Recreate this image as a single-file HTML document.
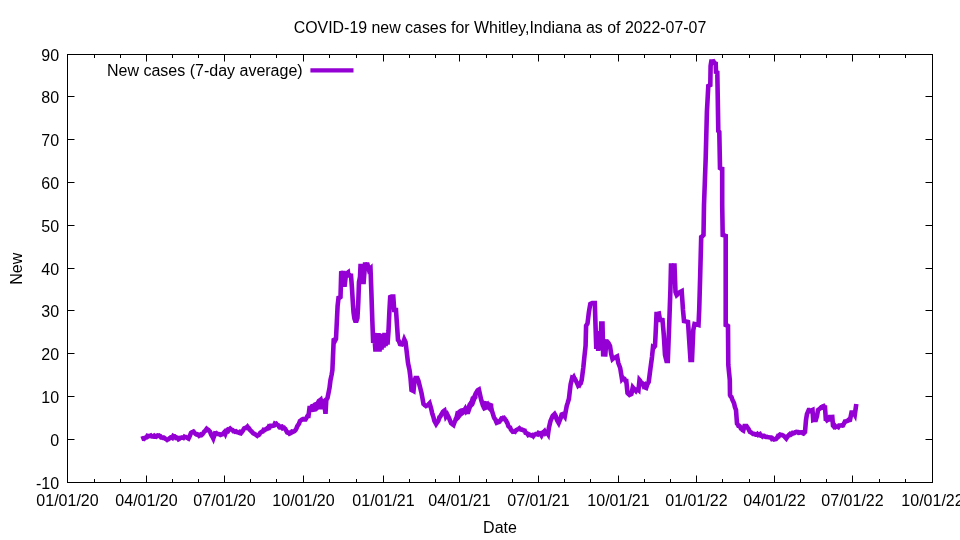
<!DOCTYPE html>
<html><head><meta charset="utf-8"><title>COVID-19 new cases for Whitley,Indiana</title>
<style>
html,body{margin:0;padding:0;background:#fff;}
svg{display:block;will-change:transform;}
text{font-family:"Liberation Sans",Arial,sans-serif;font-size:16px;fill:#000;}
</style></head>
<body>
<svg width="960" height="540" viewBox="0 0 960 540">
<rect x="0" y="0" width="960" height="540" fill="#fff"/>
<text x="500" y="32.7" text-anchor="middle" style="font-size:15.92px">COVID-19 new cases for Whitley,Indiana as of 2022-07-07</text>
<path d="M67.5,439.5h7.0M932.5,439.5h-7.0M67.5,396.5h7.0M932.5,396.5h-7.0M67.5,353.5h7.0M932.5,353.5h-7.0M67.5,310.5h7.0M932.5,310.5h-7.0M67.5,268.5h7.0M932.5,268.5h-7.0M67.5,225.5h7.0M932.5,225.5h-7.0M67.5,182.5h7.0M932.5,182.5h-7.0M67.5,139.5h7.0M932.5,139.5h-7.0M67.5,96.5h7.0M932.5,96.5h-7.0M146.5,482.5v-7.0M146.5,54.5v7.0M224.5,482.5v-7.0M224.5,54.5v7.0M303.5,482.5v-7.0M303.5,54.5v7.0M383.5,482.5v-7.0M383.5,54.5v7.0M459.5,482.5v-7.0M459.5,54.5v7.0M538.5,482.5v-7.0M538.5,54.5v7.0M618.5,482.5v-7.0M618.5,54.5v7.0M696.5,482.5v-7.0M696.5,54.5v7.0M774.5,482.5v-7.0M774.5,54.5v7.0M852.5,482.5v-7.0M852.5,54.5v7.0M94.5,482.5v-3.5M94.5,54.5v3.5M120.5,482.5v-3.5M120.5,54.5v3.5M172.5,482.5v-3.5M172.5,54.5v3.5M198.5,482.5v-3.5M198.5,54.5v3.5M250.5,482.5v-3.5M250.5,54.5v3.5M276.5,482.5v-3.5M276.5,54.5v3.5M329.5,482.5v-3.5M329.5,54.5v3.5M356.5,482.5v-3.5M356.5,54.5v3.5M409.5,482.5v-3.5M409.5,54.5v3.5M435.5,482.5v-3.5M435.5,54.5v3.5M486.5,482.5v-3.5M486.5,54.5v3.5M512.5,482.5v-3.5M512.5,54.5v3.5M564.5,482.5v-3.5M564.5,54.5v3.5M590.5,482.5v-3.5M590.5,54.5v3.5M644.5,482.5v-3.5M644.5,54.5v3.5M670.5,482.5v-3.5M670.5,54.5v3.5M722.5,482.5v-3.5M722.5,54.5v3.5M749.5,482.5v-3.5M749.5,54.5v3.5M800.5,482.5v-3.5M800.5,54.5v3.5M826.5,482.5v-3.5M826.5,54.5v3.5M879.5,482.5v-3.5M879.5,54.5v3.5M905.5,482.5v-3.5M905.5,54.5v3.5" stroke="#000" stroke-width="1" fill="none"/>
<rect x="67.5" y="54.5" width="865.0" height="428.0" stroke="#000" stroke-width="1" fill="none"/>
<text x="59.1" y="488.6" text-anchor="end">-10</text><text x="59.1" y="445.6" text-anchor="end">0</text><text x="59.1" y="402.6" text-anchor="end">10</text><text x="59.1" y="359.6" text-anchor="end">20</text><text x="59.1" y="316.6" text-anchor="end">30</text><text x="59.1" y="274.6" text-anchor="end">40</text><text x="59.1" y="231.6" text-anchor="end">50</text><text x="59.1" y="188.6" text-anchor="end">60</text><text x="59.1" y="145.6" text-anchor="end">70</text><text x="59.1" y="102.6" text-anchor="end">80</text><text x="59.1" y="60.6" text-anchor="end">90</text>
<text x="67.5" y="505.5" text-anchor="middle">01/01/20</text><text x="146.5" y="505.5" text-anchor="middle">04/01/20</text><text x="224.5" y="505.5" text-anchor="middle">07/01/20</text><text x="303.5" y="505.5" text-anchor="middle">10/01/20</text><text x="383.5" y="505.5" text-anchor="middle">01/01/21</text><text x="459.5" y="505.5" text-anchor="middle">04/01/21</text><text x="538.5" y="505.5" text-anchor="middle">07/01/21</text><text x="618.5" y="505.5" text-anchor="middle">10/01/21</text><text x="696.5" y="505.5" text-anchor="middle">01/01/22</text><text x="774.5" y="505.5" text-anchor="middle">04/01/22</text><text x="852.5" y="505.5" text-anchor="middle">07/01/22</text><text x="932.5" y="505.5" text-anchor="middle">10/01/22</text>
<text x="500" y="532.7" text-anchor="middle">Date</text>
<text transform="translate(22,268.8) rotate(-90)" text-anchor="middle">New</text>
<text x="107" y="75.7">New cases (7-day average)</text>
<path d="M310.4,70.4H353.5" stroke="#9400d3" stroke-width="4.2" fill="none"/>
<polygon points="309.8,405.5 310.7,404 315,403.8 317,399.6 319.5,397.8 322,395.5 323.1,400 324.5,397.5 325.5,399 325.5,405 324.5,409 322.5,409.6 318.8,409.4 316.5,411.5 312,412.3 310,412" fill="#9400d3"/><polygon points="482,400.5 486,401 490,402.5 493.3,403.8 493.5,410 490,412 487.3,409.5 483.3,411.3 481.5,408" fill="#9400d3"/><polygon points="455,415.3 457.6,410.2 460.1,408.6 462.4,407.9 466.1,407.9 469.4,401.2 472,396.4 474.2,394.6 475.7,389.6 477.5,388 477.6,398 476.4,399.6 474.2,405.5 472,407.7 469.8,414.2 464.6,414.2 461.6,416.4 459.4,419.4 456.5,422" fill="#9400d3"/>
<polyline points="141.30,439.00 142.16,438.65 143.02,438.31 144.00,438.80 144.75,438.16 145.40,437.60 146.47,437.36 147.33,435.99 148.19,436.38 149.10,435.90 149.92,435.82 150.78,435.46 151.64,436.38 152.25,436.50 152.50,436.52 153.36,436.60 154.22,435.87 155.08,436.61 156.00,436.80 156.81,435.74 157.67,435.42 158.53,435.78 159.10,435.55 159.39,435.74 160.25,436.17 161.12,437.41 161.98,437.42 162.25,437.60 162.84,437.82 163.70,437.54 164.56,438.03 165.40,438.80 166.29,439.21 167.15,439.92 168.00,439.40 168.87,438.90 169.73,437.99 170.59,437.54 171.00,437.25 171.45,437.16 172.32,437.79 173.18,436.05 174.04,436.64 174.75,436.50 175.76,437.86 176.62,437.55 177.49,437.96 178.50,439.30 179.21,438.94 180.07,437.88 180.93,437.75 181.79,437.63 182.25,437.40 182.65,437.37 183.52,437.83 184.38,436.70 185.24,437.16 186.00,437.10 186.96,437.77 187.82,438.12 188.50,438.50 189.55,436.43 190.41,434.30 191.00,433.00 191.27,432.85 192.13,432.13 192.99,431.88 193.50,431.60 193.85,432.00 194.72,433.06 195.80,434.20 196.44,434.50 197.30,434.14 198.16,434.54 199.20,435.80 199.89,435.47 200.75,434.53 201.61,434.95 202.50,434.20 203.33,432.99 204.19,431.66 205.05,431.05 205.92,429.77 206.70,428.75 207.64,429.50 208.50,429.97 209.36,431.13 210.00,431.70 211.09,434.43 211.95,436.00 212.81,437.40 213.30,438.40 213.67,437.29 214.53,434.70 215.00,433.30 215.39,433.38 216.26,433.11 217.12,433.89 217.98,433.98 218.84,434.12 219.20,434.20 219.70,434.20 220.56,434.87 221.42,434.61 222.50,434.20 223.15,433.49 224.01,432.54 224.50,432.00 224.87,432.76 225.40,433.85 225.73,432.99 226.50,431.00 227.46,429.95 228.32,430.73 229.20,429.20 230.04,428.58 230.90,429.47 231.70,429.60 232.62,430.03 233.49,431.23 234.35,431.28 235.00,431.70 236.07,431.31 236.93,432.15 237.79,432.38 238.30,432.50 238.66,432.61 239.52,432.04 240.38,433.17 240.80,433.30 241.24,432.65 242.10,431.70 242.96,430.63 243.82,428.85 244.20,428.30 244.69,428.06 245.55,427.79 246.41,428.00 247.50,426.70 248.13,427.54 248.99,428.30 250.00,430.00 250.72,430.68 251.58,431.51 252.20,432.10 253.30,433.27 254.16,433.72 255.03,434.33 255.89,434.75 256.75,435.47 257.20,435.80 257.61,435.39 258.47,435.13 259.33,434.47 260.19,432.81 260.50,432.50 261.06,432.17 261.92,431.61 262.78,431.46 263.64,429.79 264.70,430.00 265.36,429.47 266.23,429.17 267.09,428.38 267.95,428.39 268.80,426.70 269.67,427.18 270.53,425.88 271.39,425.91 272.26,425.96 273.00,425.80 273.98,425.55 274.84,423.63 275.70,424.12 276.30,423.75 276.56,424.04 277.43,424.91 278.29,425.25 279.15,426.89 279.70,427.50 280.01,427.50 280.87,426.72 281.73,426.60 282.59,428.05 283.46,427.50 283.80,427.50 284.32,428.26 285.18,428.80 286.04,430.31 286.90,432.06 287.20,432.50 287.76,432.64 288.63,432.65 289.49,433.73 290.50,433.30 291.21,432.88 292.07,431.59 292.93,431.76 293.80,431.43 294.70,430.80 295.52,430.12 296.38,428.49 297.24,426.33 298.00,425.00 298.96,423.87 300.00,421.00 300.69,420.48 301.55,419.84 302.00,419.50 302.41,419.50 303.27,418.98 304.13,419.30 305.00,419.50 305.50,419.50 305.86,418.88 306.72,417.37 307.50,416.00 308.50,416.00 309.50,408.00 310.16,408.00 311.03,407.61 312.00,408.00 312.75,407.00 313.50,406.00 314.47,405.03 315.00,404.50 315.33,404.39 316.20,404.10 316.50,404.00 317.06,403.81 318.00,403.50 318.78,402.72 319.50,402.00 320.50,401.33 321.00,401.00 321.36,401.00 322.23,401.00 322.50,401.00 323.09,401.59 323.50,402.00 323.95,403.35 324.50,405.00 324.81,407.74 325.50,413.80 326.30,400.00 327.50,398.00 328.50,393.00 329.12,389.91 329.50,388.00 329.98,384.16 330.50,380.00 330.84,378.40 331.70,374.40 332.40,370.00 333.43,346.31 333.70,340.00 334.29,339.74 335.15,340.60 336.00,339.00 336.87,321.00 337.60,306.00 338.50,298.00 339.46,297.80 340.50,297.00 341.20,273.00 342.04,272.79 342.90,273.00 343.50,273.00 343.77,276.66 344.50,286.80 345.49,278.37 346.00,274.00 346.35,273.74 347.21,273.09 348.00,272.50 348.40,275.30 348.93,275.34 349.80,275.21 350.66,275.47 351.00,275.50 351.52,282.13 351.90,287.00 352.38,294.81 352.70,300.00 353.24,308.13 353.50,312.00 354.10,316.36 354.40,318.50 355.20,320.80 355.83,320.80 356.50,320.80 357.40,318.00 358.00,308.00 358.30,302.00 359.00,282.00 359.27,280.63 360.00,277.00 360.50,266.00 361.00,266.00 361.86,266.00 362.50,266.00 363.50,284.00 364.44,271.75 365.00,264.50 365.30,264.50 366.17,264.34 367.03,264.50 367.50,264.50 367.89,265.93 369.00,270.00 369.61,269.39 370.50,268.50 371.30,290.00 372.30,320.00 373.20,343.00 373.92,335.80 374.20,333.00 374.78,341.27 375.50,351.50 376.50,334.00 377.50,351.50 378.23,338.05 378.50,333.00 379.09,343.89 379.50,351.50 379.95,343.62 380.50,334.00 380.81,338.84 381.50,349.50 382.50,334.00 383.50,347.50 384.50,333.00 385.12,341.06 385.50,346.00 385.98,339.74 386.50,333.00 386.84,336.94 387.50,344.50 388.50,331.00 389.40,311.00 390.20,297.00 391.15,296.63 391.50,296.50 392.01,296.50 392.87,296.50 393.30,296.50 393.74,303.03 394.20,310.00 394.60,310.00 395.46,310.00 396.00,310.00 396.32,314.80 396.80,322.00 397.18,327.72 398.00,340.00 398.90,340.96 400.00,344.00 400.63,344.16 401.49,344.37 402.00,344.50 402.35,344.06 403.20,343.00 404.30,339.50 404.94,340.82 405.50,342.00 405.80,344.38 406.50,350.00 407.52,358.84 408.00,363.00 408.38,364.78 409.24,368.80 409.50,370.00 410.10,374.84 410.50,378.00 410.97,383.60 411.50,390.00 411.83,390.16 412.69,390.55 413.50,391.00 414.50,381.00 415.50,378.00 416.14,378.00 417.00,378.00 417.30,378.00 417.86,379.40 418.50,381.00 419.58,385.33 420.00,387.00 420.44,388.77 421.50,393.00 422.17,396.67 423.03,401.40 423.50,404.00 423.89,404.31 424.75,405.26 425.61,405.69 426.00,406.00 426.47,405.76 427.34,405.33 428.00,405.00 429.06,403.84 429.60,403.25 429.92,404.34 431.00,408.00 431.64,410.84 432.20,413.30 432.51,414.37 433.37,416.81 434.40,421.00 435.09,422.24 436.10,424.05 436.81,423.01 437.67,421.76 438.20,421.00 438.54,420.28 439.40,417.25 440.20,416.70 441.12,414.86 442.00,413.50 442.84,411.99 443.80,411.00 444.50,410.50 445.43,414.48 445.90,416.50 446.29,415.94 447.30,414.50 448.01,415.97 449.00,418.00 449.74,419.84 450.60,421.99 451.00,423.00 451.46,423.37 452.32,424.20 453.18,424.75 453.50,425.00 454.04,423.56 454.91,421.28 455.50,419.70 455.77,418.89 456.63,417.37 457.50,413.60 458.35,413.81 459.21,413.09 460.07,412.77 460.60,412.60 460.94,412.36 461.80,412.07 462.66,411.62 463.60,410.50 464.38,410.31 465.24,408.90 466.11,410.97 466.97,409.68 467.70,409.50 468.69,407.88 469.80,404.40 470.41,403.79 471.28,402.92 471.80,402.40 472.14,401.02 472.80,398.30 473.86,397.75 474.72,396.09 475.58,393.72 475.90,393.20 476.44,392.38 477.31,391.09 477.90,390.20 478.17,390.04 478.90,389.60 479.89,394.03 480.60,397.20 481.20,400.00 481.61,401.29 482.48,403.99 482.80,405.00 483.34,405.00 484.20,404.69 485.06,404.71 486.10,405.00 486.78,405.23 487.64,404.38 488.51,406.18 489.40,406.10 490.23,406.54 491.09,408.31 492.20,411.70 492.81,413.69 493.90,417.20 494.54,418.47 495.40,419.52 496.26,421.92 496.70,422.80 497.12,422.63 497.98,421.52 498.84,421.93 499.40,421.70 499.71,421.39 500.57,420.16 501.43,418.63 502.29,418.81 502.80,418.30 503.15,418.55 504.01,417.97 504.88,418.94 505.74,420.35 506.10,420.60 506.60,421.85 507.46,423.14 508.30,426.10 509.18,426.99 510.05,427.46 510.91,429.55 511.70,430.60 512.63,431.62 513.49,431.41 514.35,431.48 515.00,431.70 516.08,430.20 516.94,429.72 517.80,429.24 518.66,428.87 519.40,428.30 520.50,429.40 521.25,429.56 522.11,429.48 522.97,429.93 523.30,430.00 523.83,430.51 524.69,430.64 525.55,432.84 526.41,433.02 526.70,433.30 527.28,433.60 528.14,434.92 529.00,434.42 530.00,435.00 530.72,435.24 531.58,435.50 532.45,435.10 533.30,436.10 534.17,434.85 535.03,434.70 535.89,434.00 536.70,433.90 537.61,434.33 538.48,432.96 539.34,433.42 540.00,433.30 541.06,434.86 541.50,435.50 541.92,434.73 542.78,433.15 543.30,432.20 543.65,432.20 544.51,431.31 545.37,433.04 546.23,432.20 546.70,432.20 547.09,432.79 548.00,434.15 548.90,428.00 549.68,424.60 550.50,421.00 551.40,418.92 552.26,416.81 552.60,416.00 553.12,415.48 553.98,414.62 554.60,414.00 555.71,415.91 556.57,418.92 557.00,420.00 557.43,420.75 558.29,422.24 558.70,422.95 559.15,421.83 560.02,419.70 560.70,418.00 561.70,414.50 562.60,414.15 563.00,414.00 563.46,414.64 564.32,415.84 564.80,416.50 565.18,414.38 566.05,409.61 566.70,406.00 567.77,402.68 568.63,399.77 568.90,398.90 569.49,393.85 570.60,384.40 571.22,381.86 572.20,377.80 572.94,378.12 573.80,376.97 574.66,378.85 575.00,379.00 575.52,380.02 576.38,381.80 577.20,383.30 578.11,385.53 578.97,384.67 579.40,385.00 579.83,384.06 580.69,383.35 581.70,380.00 582.42,374.54 583.30,367.80 584.14,359.34 584.40,356.70 585.00,351.15 585.60,345.60 586.10,325.60 586.72,324.67 587.50,323.50 588.45,315.73 588.90,312.00 589.31,309.67 590.30,304.00 591.03,303.62 591.89,303.16 592.20,303.00 592.75,303.00 593.62,303.12 594.48,303.00 594.80,303.00 595.34,319.84 595.60,328.00 596.30,349.00 597.20,331.00 597.92,345.47 598.20,351.00 598.79,339.30 599.20,331.00 599.65,340.43 600.10,350.00 600.51,341.84 600.80,336.00 601.30,323.50 602.23,323.50 602.50,323.50 603.20,356.50 604.20,342.00 604.82,350.93 605.20,356.50 605.68,349.58 606.20,342.00 606.54,342.15 607.40,341.76 608.50,343.00 609.12,344.25 610.00,346.00 610.85,351.65 611.20,354.00 611.71,355.96 612.50,359.00 613.43,358.11 614.50,358.00 615.15,357.56 616.00,357.00 617.10,356.45 617.74,359.94 618.30,363.00 618.60,363.79 619.46,366.06 620.20,368.00 621.19,374.02 622.00,379.00 622.91,377.93 623.77,379.00 624.50,379.00 625.49,380.97 626.30,381.00 627.22,390.16 627.50,393.00 628.08,393.58 628.94,394.44 629.50,395.00 629.80,394.84 630.66,394.39 631.40,394.00 632.39,389.32 632.80,387.35 633.25,387.89 634.11,389.03 635.00,390.00 635.83,390.89 636.69,389.45 637.55,389.11 638.50,390.00 639.50,380.10 640.14,380.84 641.00,382.84 642.00,383.00 642.72,383.58 643.59,385.82 644.50,385.00 645.31,387.51 646.20,387.90 647.03,385.40 647.50,384.00 647.89,383.34 648.70,382.00 649.62,374.87 650.50,368.00 651.34,361.84 652.00,357.00 653.00,347.00 653.92,347.52 655.00,346.00 655.80,330.00 656.50,314.00 657.37,314.01 658.23,313.64 658.90,313.50 660.00,320.00 660.82,320.14 661.68,319.84 662.50,320.00 663.40,330.40 663.80,335.00 664.26,342.72 665.00,355.00 665.99,358.95 666.50,361.00 666.85,361.00 667.80,361.00 668.57,341.08 669.00,330.00 669.43,317.64 670.40,290.00 671.00,265.50 672.02,265.51 672.88,265.41 673.74,265.50 674.50,265.50 675.50,292.00 676.32,294.06 676.70,295.00 677.19,294.56 678.05,293.49 678.91,292.71 680.00,292.00 680.63,291.68 681.70,291.15 682.36,300.66 683.00,310.00 684.00,321.00 684.94,321.10 685.80,321.31 686.66,321.78 687.53,321.88 688.00,322.00 688.39,327.93 689.25,341.14 689.50,345.00 690.11,354.15 690.50,360.00 690.97,360.00 692.00,360.00 692.69,343.97 693.30,330.00 693.56,328.72 694.50,324.00 695.28,324.19 696.14,324.68 697.00,324.59 697.86,324.84 698.50,325.00 699.20,310.00 699.59,296.46 700.20,275.00 701.20,237.00 702.17,236.42 703.03,235.41 703.50,235.00 704.00,205.00 704.76,184.09 705.70,158.00 706.48,128.13 706.90,112.00 707.34,103.81 708.30,86.00 709.06,85.62 709.93,85.19 710.30,85.00 710.60,66.00 711.30,61.50 711.65,61.50 712.51,61.79 713.50,61.50 714.23,62.60 714.50,63.00 715.09,63.25 715.70,63.50 716.00,72.00 716.82,72.31 717.30,72.50 717.80,100.00 718.30,131.00 719.30,132.00 720.00,168.00 720.26,168.12 721.13,168.78 722.20,169.00 722.20,205.00 722.70,235.00 723.71,235.26 724.57,235.46 725.43,235.91 725.70,236.00 725.70,300.00 725.70,325.00 726.30,325.26 727.16,325.47 728.00,326.00 728.30,365.00 728.88,370.80 729.80,380.00 730.00,395.00 730.60,396.21 731.46,396.98 732.33,399.65 733.00,401.00 734.05,403.29 734.91,407.08 736.00,410.00 736.63,418.55 737.00,423.50 737.50,424.00 738.36,425.71 739.22,425.72 740.00,426.50 740.94,428.51 741.80,429.02 742.50,430.00 743.30,430.50 744.50,426.00 745.25,426.00 746.11,426.00 746.50,426.00 746.97,426.71 747.83,428.00 748.50,429.00 749.56,431.11 750.00,432.00 750.42,432.19 751.28,432.54 752.14,433.24 753.00,433.90 754.00,433.80 754.73,434.16 755.59,434.59 756.00,434.80 756.45,434.80 757.31,434.07 758.17,435.08 759.00,434.80 760.00,434.20 761.00,435.80 761.62,435.80 762.48,436.51 763.34,435.80 764.00,435.80 765.06,436.64 765.93,436.87 767.00,436.80 767.65,436.95 768.51,437.12 769.37,437.35 770.00,437.50 771.10,437.52 771.96,438.95 772.82,438.64 773.68,439.34 774.00,439.50 774.54,439.36 775.40,439.15 776.00,439.00 776.27,438.60 777.13,437.81 778.00,436.00 778.85,436.18 779.71,434.72 780.00,434.50 780.57,434.64 781.43,434.86 782.00,435.00 782.30,435.18 783.16,435.51 784.02,436.21 784.50,436.50 784.88,436.92 785.74,437.88 786.30,438.50 786.60,438.05 787.47,436.79 788.00,436.00 788.33,435.67 789.19,434.64 790.00,434.00 790.91,434.66 791.77,434.12 792.63,432.98 793.70,433.40 794.36,433.15 795.22,432.14 796.08,431.85 796.94,432.17 797.40,432.00 797.80,432.05 798.67,432.93 799.53,432.86 800.39,432.40 801.10,432.50 802.11,432.27 802.97,433.28 803.50,433.50 803.83,433.17 804.70,432.30 805.00,432.00 805.56,425.30 806.00,420.00 806.42,417.48 807.00,414.00 807.28,413.34 808.14,411.31 808.70,410.00 809.00,410.00 809.87,410.88 810.73,411.29 811.59,410.42 812.50,410.00 813.20,420.00 814.17,419.65 815.04,420.00 815.80,420.00 817.00,416.00 817.62,412.28 818.00,410.00 818.48,409.68 819.50,409.00 820.20,408.30 821.00,407.50 821.93,407.64 822.79,406.47 823.65,406.15 824.51,407.50 825.00,407.50 825.37,412.87 825.80,419.00 826.24,419.07 827.10,420.31 827.96,419.69 829.00,419.50 829.80,417.00 830.54,417.00 831.40,417.06 832.30,417.00 833.00,425.50 833.99,426.66 834.85,425.82 835.71,426.95 836.57,426.39 837.00,426.50 837.44,426.43 838.30,426.96 839.16,425.54 840.02,425.48 840.88,425.42 841.74,425.16 842.60,425.57 843.00,425.50 843.47,424.57 844.33,422.84 845.00,421.50 846.05,421.43 847.00,421.00 847.77,420.74 848.64,419.90 849.50,420.17 850.00,420.00 850.36,418.21 851.22,413.90 851.50,412.50 852.08,412.50 852.94,412.50 853.50,412.50 853.80,413.04 854.80,414.80 855.53,409.56 856.30,404.00" stroke="#9400d3" stroke-width="4.6" fill="none" stroke-linejoin="miter" stroke-miterlimit="10"/>
</svg>
</body></html>
